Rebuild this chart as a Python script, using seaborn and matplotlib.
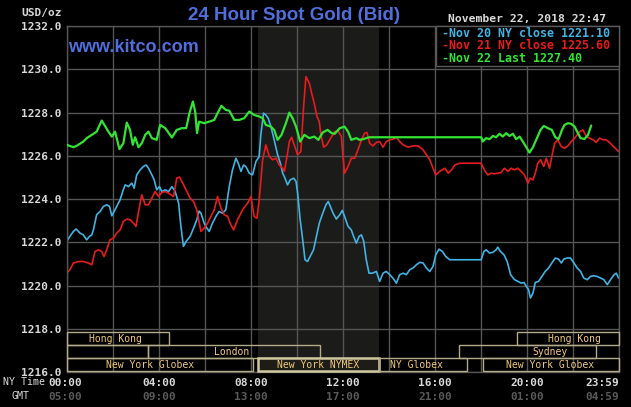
import numpy as np
import pandas as pd
import matplotlib
matplotlib.use("Agg")
import matplotlib.pyplot as plt
from matplotlib.patches import Rectangle
import seaborn as sns

# ---------------- data ----------------
green_h = [0, 0.29, 0.43, 0.72, 0.87, 1.09, 1.30, 1.52, 1.59, 1.81, 1.96, 2.10, 2.29, 2.46, 2.61, 2.75,
           2.87, 2.97, 3.12, 3.26, 3.41, 3.55, 3.70, 3.91, 4.06, 4.28, 4.57, 4.78, 5.0, 5.19, 5.33, 5.48,
           5.58, 5.66, 5.75, 5.97, 6.19, 6.41, 6.55, 6.72, 6.91, 7.06, 7.28, 7.49, 7.71, 7.93, 8.14, 8.36,
           8.51, 8.65, 8.87, 9.01, 9.16, 9.33, 9.52, 9.67, 9.81, 9.96, 10.14, 10.32, 10.54, 10.75, 10.93,
           11.12, 11.33, 11.51, 11.64, 11.86, 12.07, 12.22, 12.36, 12.58, 12.72, 12.87, 13.01, 13.16, 14.0,
           15.0, 16.0, 17.0, 18.0, 18.07, 18.22, 18.36, 18.51, 18.65, 18.80, 18.94, 19.09, 19.23, 19.38,
           19.52, 19.67, 19.81, 19.96, 20.10, 20.25, 20.39, 20.58, 20.72, 20.90, 21.07, 21.22, 21.36, 21.51,
           21.62, 21.77, 21.91, 22.06, 22.20, 22.32, 22.49, 22.64, 22.78]
green_v = [1226.51, 1226.40, 1226.46, 1226.66, 1226.82, 1226.97, 1227.12, 1227.63, 1227.51, 1227.12,
           1226.89, 1227.12, 1226.31, 1226.58, 1227.54, 1227.20, 1226.51, 1226.86, 1226.40, 1226.58,
           1226.97, 1227.12, 1226.82, 1226.74, 1227.43, 1227.28, 1226.85, 1227.20, 1227.28, 1227.28,
           1227.97, 1228.51, 1228.05, 1227.05, 1227.58, 1227.51, 1227.58, 1227.66, 1227.97, 1228.31,
           1228.12, 1228.09, 1227.66, 1227.66, 1227.74, 1228.05, 1227.89, 1227.82, 1227.74, 1227.43,
           1227.35, 1227.20, 1226.74, 1226.97, 1227.51, 1228.00, 1227.74, 1227.35, 1226.66, 1226.97,
           1226.82, 1226.89, 1226.74, 1227.08, 1227.20, 1227.05, 1227.02, 1227.28, 1227.35, 1227.12,
           1226.74, 1226.82, 1226.74, 1226.77, 1226.82, 1226.86, 1226.86, 1226.86, 1226.86, 1226.86,
           1226.86, 1226.66, 1226.82, 1226.77, 1226.92, 1226.86, 1227.02, 1226.89, 1227.05, 1226.92,
           1227.02, 1226.77, 1226.89, 1226.66, 1226.40, 1226.15, 1226.40, 1226.74, 1227.20, 1227.38,
           1227.28, 1227.20, 1226.86, 1226.77, 1227.20, 1227.43, 1227.51, 1227.48, 1227.35, 1227.05,
           1226.82, 1226.78, 1226.97, 1227.40]

red_h = [0, 0.14, 0.29, 0.51, 0.72, 0.94, 1.09, 1.23, 1.38, 1.52, 1.62, 1.74, 1.88, 2.03, 2.17, 2.32,
         2.46, 2.61, 2.75, 2.90, 3.01, 3.12, 3.26, 3.41, 3.55, 3.70, 3.84, 3.99, 4.13, 4.28, 4.42, 4.64,
         4.78, 4.90, 5.04, 5.22, 5.36, 5.51, 5.65, 5.83, 5.97, 6.12, 6.26, 6.41, 6.55, 6.70, 6.84, 6.99,
         7.13, 7.25, 7.42, 7.64, 7.86, 8.00, 8.14, 8.26, 8.36, 8.51, 8.65, 8.80, 8.94, 9.09, 9.23, 9.38,
         9.45, 9.57, 9.67, 9.77, 9.88, 10.03, 10.17, 10.29, 10.39, 10.54, 10.64, 10.75, 10.87, 10.97,
         11.04, 11.16, 11.30, 11.42, 11.64, 11.78, 11.93, 12.00, 12.07, 12.22, 12.36, 12.51, 12.65,
         12.80, 12.94, 13.04, 13.16, 13.30, 13.45, 13.59, 13.74, 13.88, 14.03, 14.17, 14.32, 14.46,
         14.61, 14.83, 15.04, 15.26, 15.48, 15.62, 15.77, 15.91, 16.03, 16.20, 16.42, 16.57, 16.71,
         16.86, 17.07, 17.29, 17.51, 18.0, 18.14, 18.29, 18.43, 18.58, 18.72, 18.87, 19.01, 19.16,
         19.30, 19.45, 19.59, 19.74, 19.88, 20.03, 20.13, 20.25, 20.35, 20.46, 20.58, 20.72, 20.83,
         20.97, 21.07, 21.19, 21.33, 21.48, 21.62, 21.77, 21.91, 22.06, 22.28, 22.42, 22.57, 22.71,
         22.86, 23.00, 23.14, 23.29, 23.43, 23.58, 23.72, 23.87, 23.97]
red_v = [1220.58, 1220.74, 1221.05, 1221.12, 1221.12, 1221.05, 1220.97, 1221.58, 1221.66, 1221.58,
         1221.35, 1221.66, 1222.12, 1222.20, 1222.43, 1222.58, 1222.97, 1223.08, 1223.05, 1222.89,
         1222.74, 1223.43, 1224.20, 1223.74, 1223.74, 1224.05, 1224.35, 1224.12, 1224.31, 1224.35,
         1224.28, 1224.12, 1224.97, 1225.02, 1224.74, 1224.35, 1224.05, 1223.89, 1223.51, 1222.51,
         1222.66, 1222.89, 1223.20, 1223.51, 1224.12, 1223.58, 1223.28, 1223.20, 1222.82, 1222.58,
         1223.05, 1223.51, 1223.82, 1224.12, 1223.20, 1223.12, 1223.97, 1225.82, 1226.51, 1225.97,
         1225.82, 1225.89, 1225.58, 1225.43, 1225.28, 1225.97, 1226.66, 1226.86, 1226.51, 1226.05,
         1226.20, 1228.28, 1229.66, 1229.35, 1228.89, 1228.43, 1227.82, 1227.58, 1226.97, 1226.40,
         1226.51, 1226.74, 1227.12, 1227.17, 1226.89, 1225.97, 1225.20, 1225.51, 1225.89, 1225.89,
         1226.28, 1226.74, 1227.05, 1227.08, 1226.58, 1226.46, 1226.62, 1226.66, 1226.40, 1226.66,
         1226.74, 1226.77, 1226.86, 1226.66, 1226.51, 1226.40, 1226.46, 1226.46, 1226.28, 1226.05,
         1225.82, 1225.43, 1225.12, 1225.28, 1225.43, 1225.20, 1225.35, 1225.58, 1225.66, 1225.66,
         1225.66, 1225.66, 1225.35, 1225.12, 1225.20, 1225.17, 1225.20, 1225.23, 1225.43, 1225.28,
         1225.43, 1225.35, 1225.43, 1225.28, 1225.12, 1224.74, 1224.97, 1224.89, 1225.20, 1225.66,
         1225.82, 1225.51, 1225.89, 1225.43, 1225.97, 1226.58, 1226.74, 1226.43, 1226.35, 1226.46,
         1226.66, 1226.82, 1227.12, 1227.20, 1226.89, 1226.82, 1226.74, 1226.62, 1226.82, 1226.74,
         1226.74, 1226.62, 1226.46, 1226.31, 1226.20]

cyan_h = [0, 0.14, 0.29, 0.41, 0.58, 0.72, 0.87, 0.99, 1.09, 1.16, 1.30, 1.45, 1.59, 1.74, 1.86, 1.96,
          2.06, 2.17, 2.32, 2.43, 2.54, 2.68, 2.83, 2.93, 3.04, 3.19, 3.33, 3.45, 3.55, 3.70, 3.80, 3.91,
          4.03, 4.13, 4.28, 4.42, 4.57, 4.71, 4.86, 4.96, 5.07, 5.19, 5.36, 5.51, 5.65, 5.75, 5.83, 5.97,
          6.09, 6.19, 6.33, 6.48, 6.62, 6.77, 6.91, 7.06, 7.20, 7.35, 7.45, 7.57, 7.68, 7.78, 7.93, 8.07,
          8.22, 8.36, 8.43, 8.55, 8.65, 8.75, 8.87, 9.01, 9.16, 9.28, 9.38, 9.48, 9.59, 9.71, 9.86, 9.96,
          10.03, 10.14, 10.25, 10.35, 10.46, 10.61, 10.72, 10.83, 10.97, 11.12, 11.26, 11.36, 11.57,
          11.71, 11.86, 11.97, 12.07, 12.22, 12.36, 12.46, 12.58, 12.70, 12.80, 12.90, 13.01, 13.13,
          13.28, 13.45, 13.59, 13.74, 13.88, 14.03, 14.17, 14.32, 14.46, 14.61, 14.75, 14.90, 15.04,
          15.19, 15.33, 15.48, 15.62, 15.77, 15.91, 16.03, 16.17, 16.32, 16.46, 16.64, 17.0, 18.0, 18.12,
          18.22, 18.36, 18.51, 18.65, 18.72, 18.84, 18.99, 19.13, 19.28, 19.45, 19.59, 19.74, 19.86,
          19.96, 20.06, 20.14, 20.25, 20.35, 20.49, 20.64, 20.78, 20.93, 21.07, 21.22, 21.36, 21.48,
          21.59, 21.74, 21.88, 22.03, 22.17, 22.32, 22.46, 22.61, 22.75, 22.90, 23.04, 23.19, 23.33,
          23.48, 23.62, 23.77, 23.87, 23.97]
cyan_v = [1222.05, 1222.28, 1222.51, 1222.62, 1222.43, 1222.35, 1222.12, 1222.28, 1222.35, 1222.58,
          1223.28, 1223.43, 1223.66, 1223.74, 1223.66, 1223.23, 1223.43, 1223.66, 1223.97, 1224.35,
          1224.66, 1224.58, 1224.74, 1224.51, 1225.12, 1225.35, 1225.51, 1225.58, 1225.43, 1225.12,
          1224.89, 1224.43, 1224.58, 1224.35, 1224.43, 1224.35, 1224.58, 1224.35, 1223.82, 1222.74,
          1221.82, 1222.05, 1222.28, 1222.66, 1223.05, 1223.45, 1223.35, 1222.89, 1222.66, 1222.51,
          1222.89, 1223.20, 1223.43, 1223.35, 1223.51, 1224.58, 1225.35, 1225.89, 1225.66, 1225.28,
          1225.58, 1225.51, 1225.20, 1225.12, 1225.74, 1225.97, 1226.97, 1227.97, 1227.89, 1227.74,
          1227.35, 1226.74, 1226.05, 1225.66, 1225.20, 1224.97, 1224.66, 1224.89, 1224.97, 1224.82,
          1224.28, 1223.05, 1222.12, 1221.20, 1221.12, 1221.43, 1221.66, 1222.20, 1222.89, 1223.35,
          1223.74, 1223.89, 1223.35, 1223.08, 1223.28, 1223.48, 1223.20, 1222.74, 1222.58, 1222.28,
          1221.97, 1222.28, 1222.35, 1222.05, 1221.20, 1220.58, 1220.58, 1220.66, 1220.20, 1220.58,
          1220.66, 1220.51, 1220.35, 1220.12, 1220.51, 1220.58, 1220.51, 1220.74, 1220.82, 1220.97,
          1221.08, 1221.05, 1220.82, 1220.66, 1220.89, 1221.43, 1221.69, 1221.58, 1221.35, 1221.20,
          1221.20, 1221.20, 1221.58, 1221.66, 1221.51, 1221.54, 1221.66, 1221.78, 1221.58, 1221.43,
          1221.12, 1220.51, 1220.28, 1220.20, 1220.12, 1220.15, 1219.97, 1219.82, 1219.43, 1219.66,
          1220.15, 1220.20, 1220.43, 1220.66, 1220.82, 1221.05, 1221.28, 1221.23, 1221.05, 1221.23,
          1221.28, 1221.28, 1221.05, 1220.82, 1220.66, 1220.35, 1220.28, 1220.43, 1220.46, 1220.43,
          1220.35, 1220.28, 1220.05, 1220.28, 1220.51, 1220.58, 1220.35]

series_names = ["Nov 20", "Nov 21", "Nov 22"]
legend_texts = ["-Nov 20 NY close 1221.10", "-Nov 21 NY close 1225.60", "-Nov 22 Last 1227.40"]

y_ticks = [1216, 1218, 1220, 1222, 1224, 1226, 1228, 1230, 1232]
x_ticks = [0, 4, 8, 12, 16, 20, 24]
ny_labels = ["00:00", "04:00", "08:00", "12:00", "16:00", "20:00", "23:59"]
gmt_labels = ["05:00", "09:00", "13:00", "17:00", "21:00", "01:00", "04:59"]

# sessions: (row, start hour, end hour, label, label centre hour)
sessions = [
    (0, 0.0, 4.46, "Hong Kong", 2.10),
    (0, 19.57, 24.0, "Hong Kong", 22.07),
    (1, 0.0, 3.52, "", 0),
    (1, 3.52, 10.98, "London", 7.15),
    (1, 17.03, 23.0, "Sydney", 20.99),
    (2, 0.0, 8.09, "New York Globex", 3.64),
    (2, 8.31, 13.56, "New York NYMEX", 10.90),
    (2, 13.56, 17.39, "NY Globex", 15.19),
    (2, 18.07, 24.0, "New York Globex", 20.98),
]
nymex_span = (8.31, 13.56)

# ---------------- style ----------------
sns.set_style("dark", {"axes.facecolor": "black", "figure.facecolor": "black",
                       "grid.color": "#555555", "axes.edgecolor": "#555555"})
plt.rcParams['font.family'] = ['DejaVu Sans']

colors = {"Nov 20": "#40b4e4", "Nov 21": "#e81c1c", "Nov 22": "#33e533"}
mono = "DejaVu Sans Mono"

df = pd.concat([
    pd.DataFrame({"hour": cyan_h, "price": cyan_v, "series": series_names[0]}),
    pd.DataFrame({"hour": red_h, "price": red_v, "series": series_names[1]}),
])
dfg = pd.DataFrame({"hour": green_h, "price": green_v, "series": series_names[2]})

fig = plt.figure(figsize=(6.31, 4.07), dpi=100)
fig.patch.set_facecolor("black")
ax = fig.add_axes([66.7 / 631, 1 - 372.3 / 407, (619.3 - 66.7) / 631, (372.3 - 26) / 407])
ax.set_facecolor("black")

ax.axvspan(*nymex_span, color="#1b1b19", zorder=0.2, lw=0)

sns.lineplot(data=df, x="hour", y="price", hue="series", palette=colors, estimator=None,
             sort=False, legend=False, linewidth=1.2, ax=ax, zorder=2)
sns.lineplot(data=dfg, x="hour", y="price", hue="series", palette=colors, estimator=None,
             sort=False, legend=False, linewidth=1.6, ax=ax, zorder=3)

ax.set_xlim(0, 24)
ax.set_ylim(1216, 1232)
ax.set_xticks(np.arange(0, 25, 2))
ax.set_xticklabels([])
ax.set_yticks(y_ticks)
ax.set_yticklabels([f"{t:.1f}" for t in y_ticks], fontfamily=mono, fontsize=8,
                   fontweight="bold", color="#d8d8d8")
ax.tick_params(axis="both", length=0, pad=3.4)
ax.set_xlabel("")
ax.set_ylabel("")
ax.grid(True, color="#555555", linewidth=1.0)
ax.set_axisbelow(True)
for s in ax.spines.values():
    s.set_color("#555555")
    s.set_linewidth(1.0)

# session boxes
row_y = [1217.25, 1216.65, 1216.05]
row_hgt = 0.6
for row, x0, x1, lab, lx in sessions:
    nymex = lab == "New York NYMEX"
    ax.add_patch(Rectangle((x0, row_y[row]), x1 - x0, row_hgt, fill=nymex,
                           facecolor="#1d1c16", edgecolor="#d0c8a0" if nymex else "#b2aa88",
                           lw=1.8 if nymex else 1.0, zorder=4, clip_on=False))
    if lab:
        ax.text(lx, row_y[row] + row_hgt / 2, lab, ha="center", va="center",
                fontfamily=mono, fontsize=7, color="#f0c878", zorder=5)

# legend box
ax.add_patch(Rectangle((16.04, 1230.17), 24 - 16.04, 1232 - 1230.17, facecolor="black",
                       edgecolor="#5a5a5a", lw=1.0, zorder=6, clip_on=False))
leg_y = [1231.66, 1231.12, 1230.51]
for name, txt, yy in zip(series_names, legend_texts, leg_y):
    ax.text(16.3, yy, txt, ha="left", va="center", fontfamily=mono, fontsize=8.4,
            fontweight="bold", color=colors[name], zorder=7)

# x tick labels (two rows)
trans = ax.get_xaxis_transform()
for h, ny, gm in zip(x_ticks, ny_labels, gmt_labels):
    ha = "right" if h == 24 else "center"
    ax.text(h if h != 0 else -0.07, -0.03, ny, transform=trans, ha=ha, va="center",
            fontfamily=mono, fontsize=8, fontweight="bold", color="#d8d8d8")
    ax.text(h if h != 0 else -0.07, -0.071, gm, transform=trans, ha=ha, va="center",
            fontfamily=mono, fontsize=8, fontweight="bold", color="#5a5a5a")

fig.text(3 / 631, 1 - 382 / 407, "NY Time", ha="left", va="center", fontfamily=mono,
         fontsize=7.2, color="#d8d8d8")
fig.text(20 / 631, 1 - 396 / 407, "GMT", ha="center", va="center", fontfamily=mono,
         fontsize=7.2, color="#d8d8d8")
fig.text(62 / 631, 1 - 12.7 / 407, "USD/oz", ha="right", va="center", fontfamily=mono,
         fontsize=8, fontweight="bold", color="#d8d8d8")

fig.text(294.5 / 631, 1 - 15 / 407, "24 Hour Spot Gold (Bid)", ha="center", va="center",
         fontfamily="Liberation Sans", fontweight="bold", fontsize=13.5, color="#506edc")
fig.text(68 / 631, 1 - 48 / 407, "www.kitco.com", ha="left", va="center",
         fontfamily="Liberation Sans", fontweight="bold", fontsize=13, color="#506edc")
fig.text(527.5 / 631, 1 - 19 / 407, "November 22, 2018 22:47", ha="center", va="center",
         fontfamily=mono, fontsize=8.2, fontweight="bold", color="#d8d8d8")

fig.savefig("out.png", dpi=100, facecolor="black")
